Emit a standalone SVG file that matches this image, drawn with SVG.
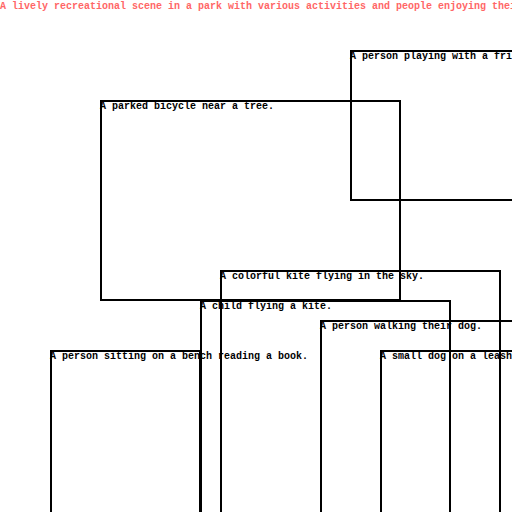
<svg xmlns="http://www.w3.org/2000/svg" width="512" height="512" viewBox="0 0 512 512">
  <style>
    .box { fill: none; stroke: #000; stroke-width: 2; }
    .lbl { font-family: "Liberation Mono", "DejaVu Sans Mono", monospace; font-size: 10px; font-weight: bold; fill: #000; }
    .title { font-family: "Liberation Mono", "DejaVu Sans Mono", monospace; font-size: 10px; font-weight: bold; fill: #ff6666; }
  </style>
  <rect width="512" height="512" fill="#fff"/>
  <text class="title" x="0" y="9">A lively recreational scene in a park with various activities and people enjoying their day.</text>
  <g id="frisbee">
    <rect class="box" x="351" y="51" width="200" height="149"/>
    <text class="lbl" x="350" y="59">A person playing with a frisbee.</text>
  </g>
  <g id="bicycle">
    <rect class="box" x="101" y="101" width="299" height="199"/>
    <text class="lbl" x="100" y="109">A parked bicycle near a tree.</text>
  </g>
  <g id="kite">
    <rect class="box" x="221" y="271" width="279" height="260"/>
    <text class="lbl" x="220" y="279">A colorful kite flying in the sky.</text>
  </g>
  <g id="child">
    <rect class="box" x="201" y="301" width="249" height="260"/>
    <text class="lbl" x="200" y="309">A child flying a kite.</text>
  </g>
  <g id="walker">
    <rect class="box" x="321" y="321" width="249" height="260"/>
    <text class="lbl" x="320" y="329">A person walking their dog.</text>
  </g>
  <g id="bench">
    <rect class="box" x="51" y="351" width="149" height="260"/>
    <text class="lbl" x="50" y="359">A person sitting on a bench reading a book.</text>
  </g>
  <g id="dog">
    <rect class="box" x="381" y="351" width="249" height="260"/>
    <text class="lbl" x="380" y="359">A small dog on a leash.</text>
  </g>
</svg>
